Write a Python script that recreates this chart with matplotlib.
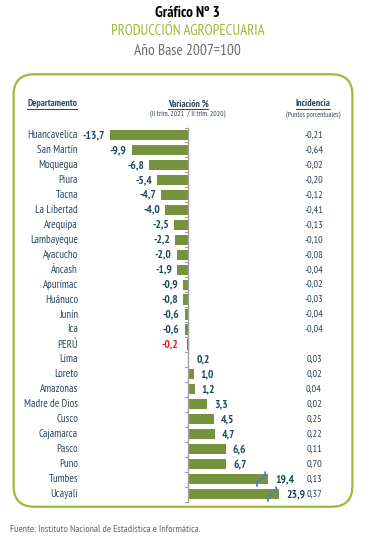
import matplotlib.pyplot as plt
from matplotlib.patches import FancyBboxPatch
from matplotlib.lines import Line2D
import numpy as np

# datos
departamentos = ['Huancavelica', 'San Martín', 'Moquegua', 'Piura', 'Tacna', 'La Libertad',
                 'Arequipa', 'Lambayeque', 'Ayacucho', 'Áncash', 'Apurímac', 'Huánuco',
                 'Junín', 'Ica', 'PERÚ', 'Lima', 'Loreto', 'Amazonas', 'Madre de Dios',
                 'Cusco', 'Cajamarca', 'Pasco', 'Puno', 'Tumbes', 'Ucayali']
variacion = [-13.7, -9.9, -6.8, -5.4, -4.7, -4.0, -2.5, -2.2, -2.0, -1.9, -0.9, -0.8,
             -0.6, -0.6, -0.2, 0.2, 1.0, 1.2, 3.3, 4.5, 4.7, 6.6, 6.7, 19.4, 23.9]
incidencia = ['-0,21', '-0,64', '-0,02', '-0,20', '-0,12', '-0,41', '-0,13', '-0,10', '-0,08',
              '-0,04', '-0,02', '-0,03', '-0,04', '-0,04', '', '0,03', '0,02', '0,04', '0,02',
              '0,25', '0,22', '0,11', '0,70', '0,13', '0,37']

W, H = 375, 554
FAM = ['PT Sans Narrow', 'DejaVu Sans']
plt.rcParams['font.family'] = FAM

BAR = '#76923C'
TXT = '#2B4760'
VAL = '#1E4A5C'
GREEN = '#9BBB35'

PX = 5.7          # pixeles por punto porcentual
X0 = 188          # posicion del cero
Y0, DY = 135, 14.96
BREAK = 10        # corte de escala para barras largas


def shown(v):
    """largo visible de la barra (eje cortado en las mas largas)"""
    if v > 15:
        return BREAK + (v - BREAK) * 0.43
    return v


def fx(p):
    return p / W


def fy(p):
    return 1 - p / H


fig = plt.figure(figsize=(W / 100, H / 100), dpi=100)
ax = fig.add_axes([0, 0, 1, 1])
ax.set_xlim(-X0 / PX, (W - X0) / PX)
ax.set_ylim((H - Y0) / DY, -Y0 / DY)
ax.axis('off')

# marco redondeado
box = FancyBboxPatch((fx(8) + 0.05, fy(513) + 0.035), fx(350) - 0.1, (513 - 68) / H - 0.07,
                     boxstyle='round,pad=0.035,rounding_size=0.055', transform=fig.transFigure,
                     fill=False, edgecolor=GREEN, linewidth=1.6, mutation_aspect=W / H)
fig.add_artist(box)

# titulos
fig.text(0.5, fy(13), 'Gráfico Nº 3', ha='center', va='center', fontsize=11,
         fontweight='bold', color='black')
fig.text(0.5, fy(31), 'PRODUCCIÓN AGROPECUARIA', ha='center', va='center', fontsize=10.6,
         color=GREEN)
fig.text(0.5, fy(51), 'Año Base 2007=100', ha='center', va='center', fontsize=11,
         color='#6b6b6b')
fig.text(fx(10), fy(530), 'Fuente: Instituto Nacional de Estadística e Informática.',
         ha='left', va='center', fontsize=7.2, color='#666666')

# encabezados de columnas
heads = []
for x, t in [(52, 'Departamento'), (188, 'Variación %'), (313, 'Incidencia')]:
    heads.append(fig.text(fx(x), fy(104), t, ha='center', va='center', fontsize=7,
                          fontweight='bold', color=TXT))
fig.text(fx(188), fy(115), '(II trim. 2021  / II trim. 2020)', ha='center', va='center',
         fontsize=5.5, color=TXT)
fig.text(fx(313), fy(115), '(Puntos porcentuales)', ha='center', va='center',
         fontsize=5.2, color=TXT)

y = np.arange(len(departamentos))
largo = [shown(v) for v in variacion]
colores = ['#E03030' if d == 'PERÚ' else BAR for d in departamentos]
ax.barh(y, largo, height=0.68, color=colores, zorder=2)

# eje del cero con marcas
ax.plot([0, 0], [-0.5, len(y) - 0.5], color='#a0a0a0', lw=1, zorder=3)
for b in np.arange(-0.5, len(y), 1):
    ax.plot([-3 / PX, 0], [b, b], color='#a0a0a0', lw=0.8, zorder=3)

for i, (d, v, l, inc) in enumerate(zip(departamentos, variacion, largo, incidencia)):
    ax.text(-110 / PX, i, d, ha='right', va='center', fontsize=7.8, color=TXT)
    s = f'{v:.1f}'.replace('.', ',')
    if d == 'PERÚ':
        ax.text(l - 9 / PX, i, s, ha='right', va='center', fontsize=8.2, fontweight='bold',
                color='#E02020')
    elif v < 0:
        ax.text(l - 5 / PX, i, s, ha='right', va='center', fontsize=8.2, fontweight='bold',
                color=VAL)
    else:
        ax.text(l + 7 / PX, i, s, ha='left', va='center', fontsize=8.2, fontweight='bold',
                color=VAL)
    ax.text(126 / PX, i, inc, ha='center', va='center', fontsize=7.5, color=TXT)
    if v > 15:
        # marca de corte de escala
        t = np.linspace(-1, 1, 40)
        ax.plot(l - 7 / PX + (t * 4 + 1.8 * np.sin(np.pi * t)) / PX, i - t * 0.45,
                color='#4F81BD', lw=1.3, zorder=4)

# subrayado de encabezados
fig.canvas.draw()
r = fig.canvas.get_renderer()
for h in heads:
    bb = h.get_window_extent(r).transformed(fig.transFigure.inverted())
    fig.add_artist(Line2D([bb.x0, bb.x1], [bb.y0 - 0.001, bb.y0 - 0.001], color=TXT, lw=0.7,
                          transform=fig.transFigure))

fig.savefig('out.png', dpi=100)
